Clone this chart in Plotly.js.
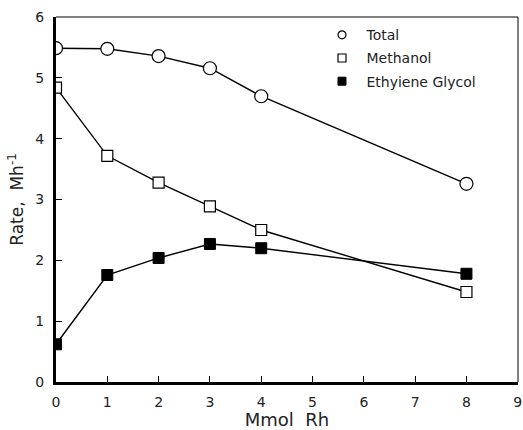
<!DOCTYPE html>
<html><head><meta charset="utf-8">
<script src="https://cdn.plot.ly/plotly-3.0.1.min.js"></script>
<style>body{margin:0;background:#fff}#c{width:523px;height:430px}</style>
</head><body><div id="c"></div>
<script>
const xVals = [0, 1, 2, 3, 4, 8];
const total = [5.49, 5.48, 5.36, 5.16, 4.70, 3.26];
const methanol = [4.84, 3.72, 3.28, 2.89, 2.50, 1.48];
const glycol = [0.62, 1.76, 2.04, 2.27, 2.20, 1.78];
const names = ["Total", "Methanol", "Ethyiene Glycol"];
const xTicks = [0,1,2,3,4,5,6,7,8,9];
const yTicks = [0,1,2,3,4,5,6];

const ff = "DejaVu Sans, sans-serif";
const font = {family: ff, size: 14, color: "#222"};
const markerStyles = [
  {symbol: "circle", color: "#fff", line: {color: "#000", width: 1.2}},
  {symbol: "square", color: "#fff", line: {color: "#000", width: 1.2}},
  {symbol: "square", color: "#000", line: {color: "#000", width: 1}}
];
const series = [total, methanol, glycol];
const sizes = [13, 11, 11];
const traces = [];
series.forEach((s, i) => {
  traces.push({x: xVals, y: s, name: names[i], mode: "lines+markers", showlegend: false,
    line: {color: "#000", width: 1.4},
    marker: Object.assign({size: sizes[i]}, markerStyles[i])});
});
// legend entries (marker only, as in the reference)
series.forEach((s, i) => {
  traces.push({x: [null], y: [null], name: names[i], mode: "markers", legendgroup: "g" + i,
    marker: Object.assign({size: 8}, markerStyles[i])});
});
const layout = {
  width: 523, height: 430,
  margin: {l: 56, r: 5, t: 17, b: 48},
  paper_bgcolor: "#fff", plot_bgcolor: "#fff",
  font: font,
  showlegend: true,
  legend: {x: 0.566, y: 0.994, xanchor: "left", yanchor: "top", bgcolor: "rgba(0,0,0,0)",
           font: {family: ff, size: 14, color: "#222"}, tracegroupgap: 2,
           itemwidth: 39},
  xaxis: {range: [0, 9.005], tickvals: xTicks, ticktext: xTicks.map(String),
          ticks: "inside", ticklen: 6, tickcolor: "#000", showgrid: false, zeroline: false,
          showline: true, linecolor: "#000", linewidth: 3, ticklabelstandoff: 5,
          ticklabeloverflow: "allow",
          title: {text: "Mmol  Rh", font: {size: 18}, standoff: 10},
          tickfont: {size: 14}},
  yaxis: {range: [0, 6.003], tickvals: yTicks, ticktext: yTicks.map(String),
          ticks: "inside", ticklen: 6, tickcolor: "#000", showgrid: false, zeroline: false,
          showline: true, linecolor: "#000", linewidth: 3, ticklabelstandoff: 6,
          title: {text: "Rate,  Mh<sup>-1</sup>", font: {size: 17}, standoff: 8},
          tickfont: {size: 14}},
  shapes: [
    {type: "line", xref: "paper", yref: "paper", x0: 0, x1: 1, y0: 1, y1: 1, line: {color: "#000", width: 1}},
    {type: "line", xref: "paper", yref: "paper", x0: 1, x1: 1, y0: 0, y1: 1, line: {color: "#000", width: 1}}
  ]
};
Plotly.newPlot("c", traces, layout, {displayModeBar: false, staticPlot: true});
</script></body></html>
